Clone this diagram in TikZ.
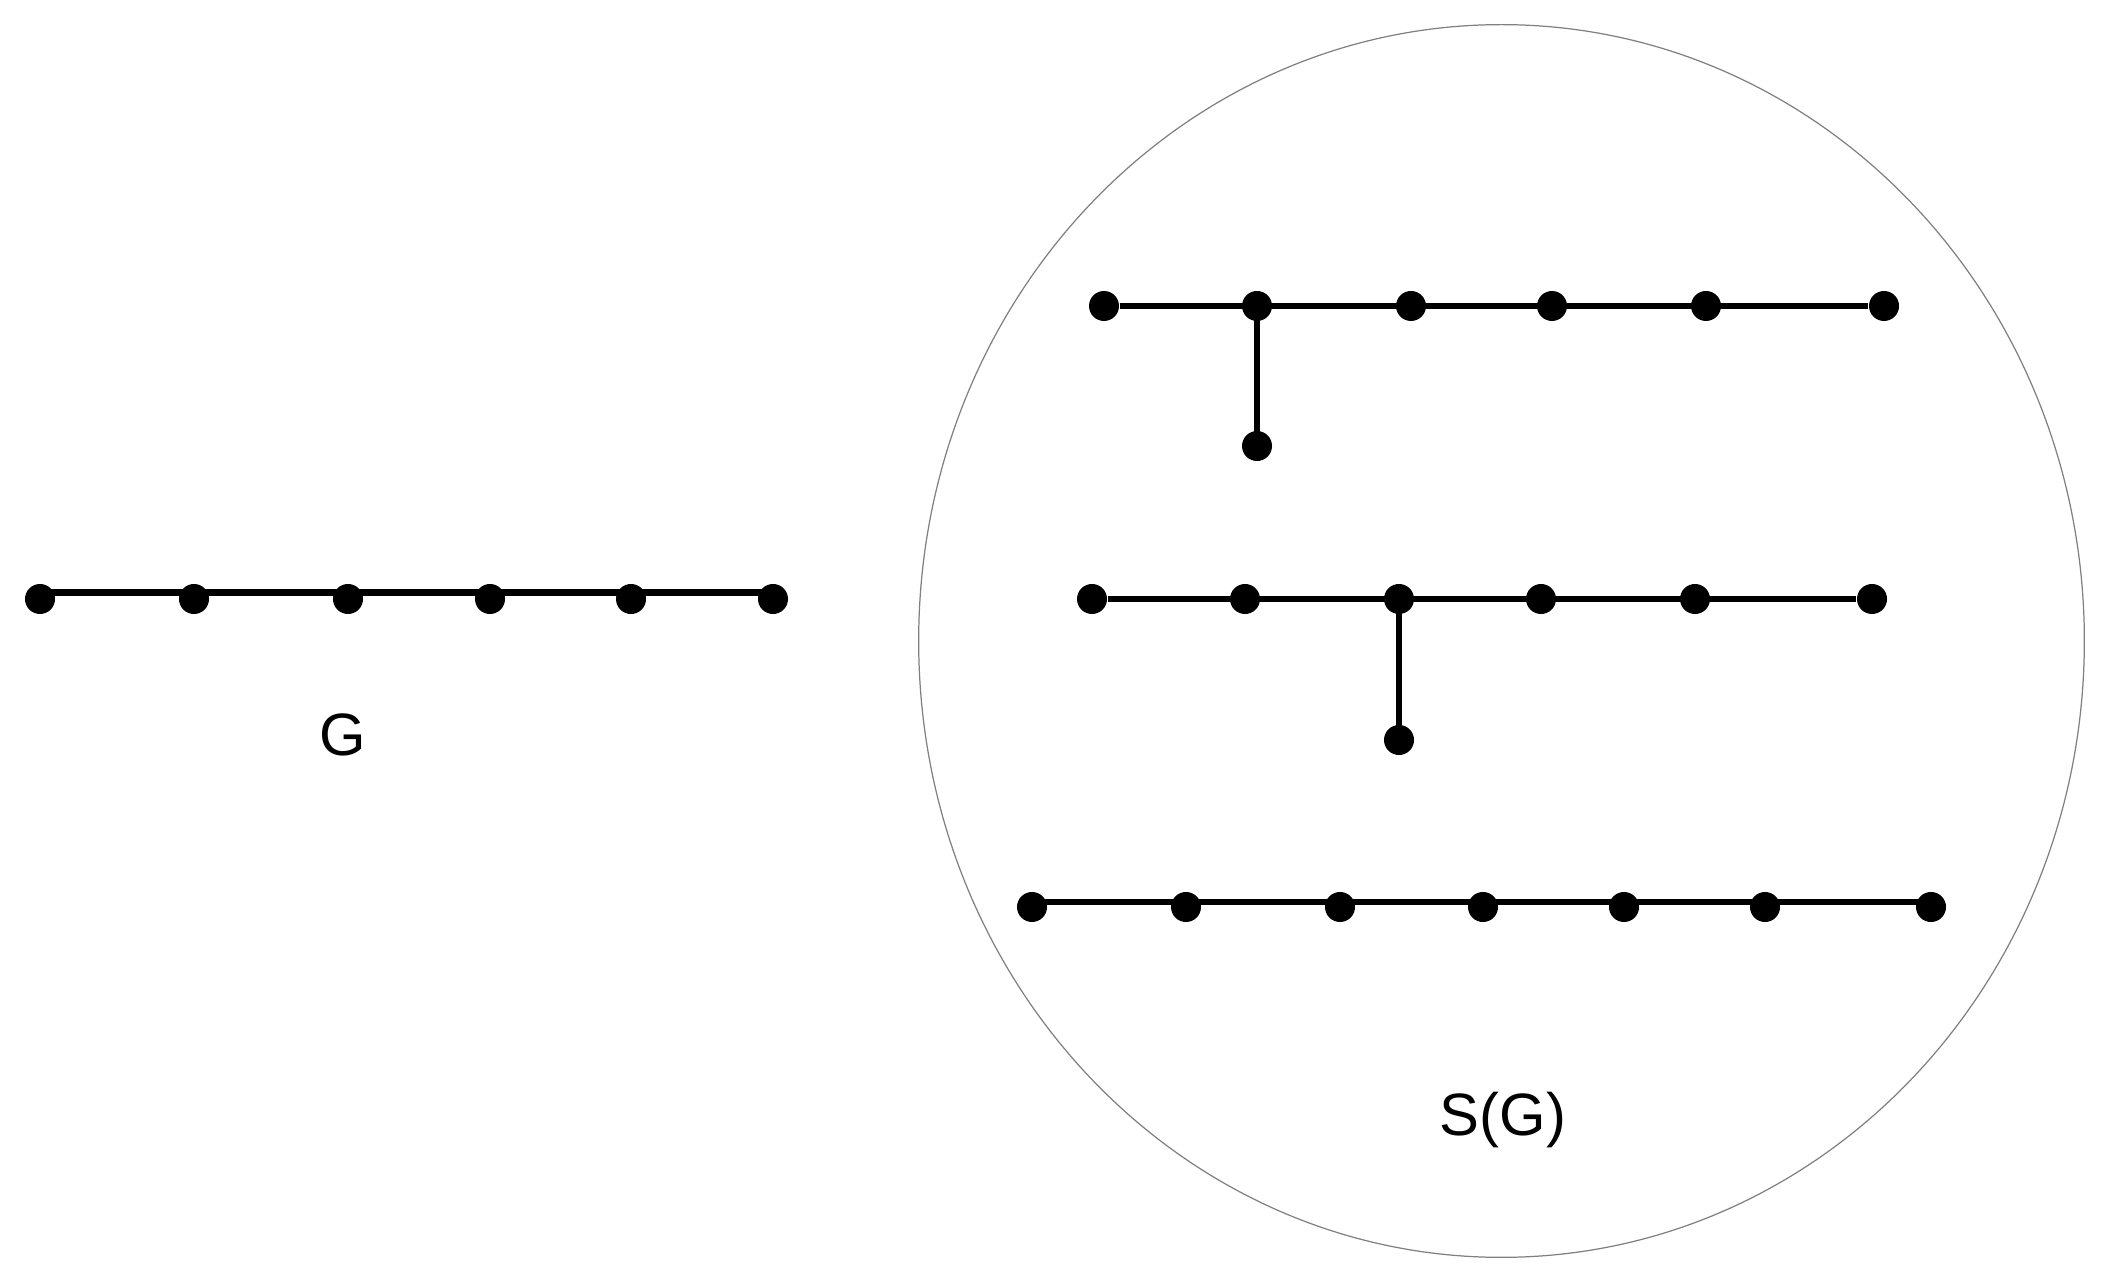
\documentclass[tikz,border=0pt]{standalone}
\usepackage{fontspec}
\setmainfont{Liberation Sans}
\begin{document}
\begin{tikzpicture}[x=0.01cm,y=-0.01cm,
  vdot/.style={circle,fill=black,inner sep=0pt,minimum size=0.3cm},
  edge/.style={line width=1.8pt,black},
  lbl/.style={anchor=base,inner sep=0pt,font=\fontsize{17}{20}\selectfont},
  hull/.style={draw=black!50,line width=0.35pt}]
\useasboundingbox (0,0) rectangle (2112,1286);
% enclosing ellipse
\draw[hull] (1501.5,641) ellipse [x radius=5.825cm, y radius=6.16cm];
% G
\foreach \n/\x in {1/40,2/194,3/348,4/490,5/631,6/773}
  \node[vdot] (g\n) at (\x,599) {};
\draw[edge] ([yshift=0.065cm]g1.center) -- ([yshift=0.065cm]g6.center);
\node[lbl] (lg) at (343,756) {G};
% S(G) row 1
\foreach \n/\x in {1/1104,2/1257,3/1411,4/1552,5/1706,6/1884}
  \node[vdot] (a\n) at (\x,306) {};
\node[vdot] (ap) at (1257,446) {};
\draw[edge] (a1) -- (a6);
\draw[edge] (a2.center) -- (ap.center);
% row 2
\foreach \n/\x in {1/1092,2/1245,3/1399,4/1541,5/1695,6/1872}
  \node[vdot] (b\n) at (\x,599) {};
\node[vdot] (bp) at (1399,740) {};
\draw[edge] (b1) -- (b6);
\draw[edge] (b3.center) -- (bp.center);
% row 3
\foreach \n/\x in {1/1032,2/1186,3/1340,4/1483,5/1624,6/1765,7/1931}
  \node[vdot] (c\n) at (\x,907) {};
\draw[edge] ([yshift=0.05cm]c1.center) -- ([yshift=0.05cm]c7.center);
\node[lbl] (ls) at (1503,1135) {S(G)};
\end{tikzpicture}
\end{document}
